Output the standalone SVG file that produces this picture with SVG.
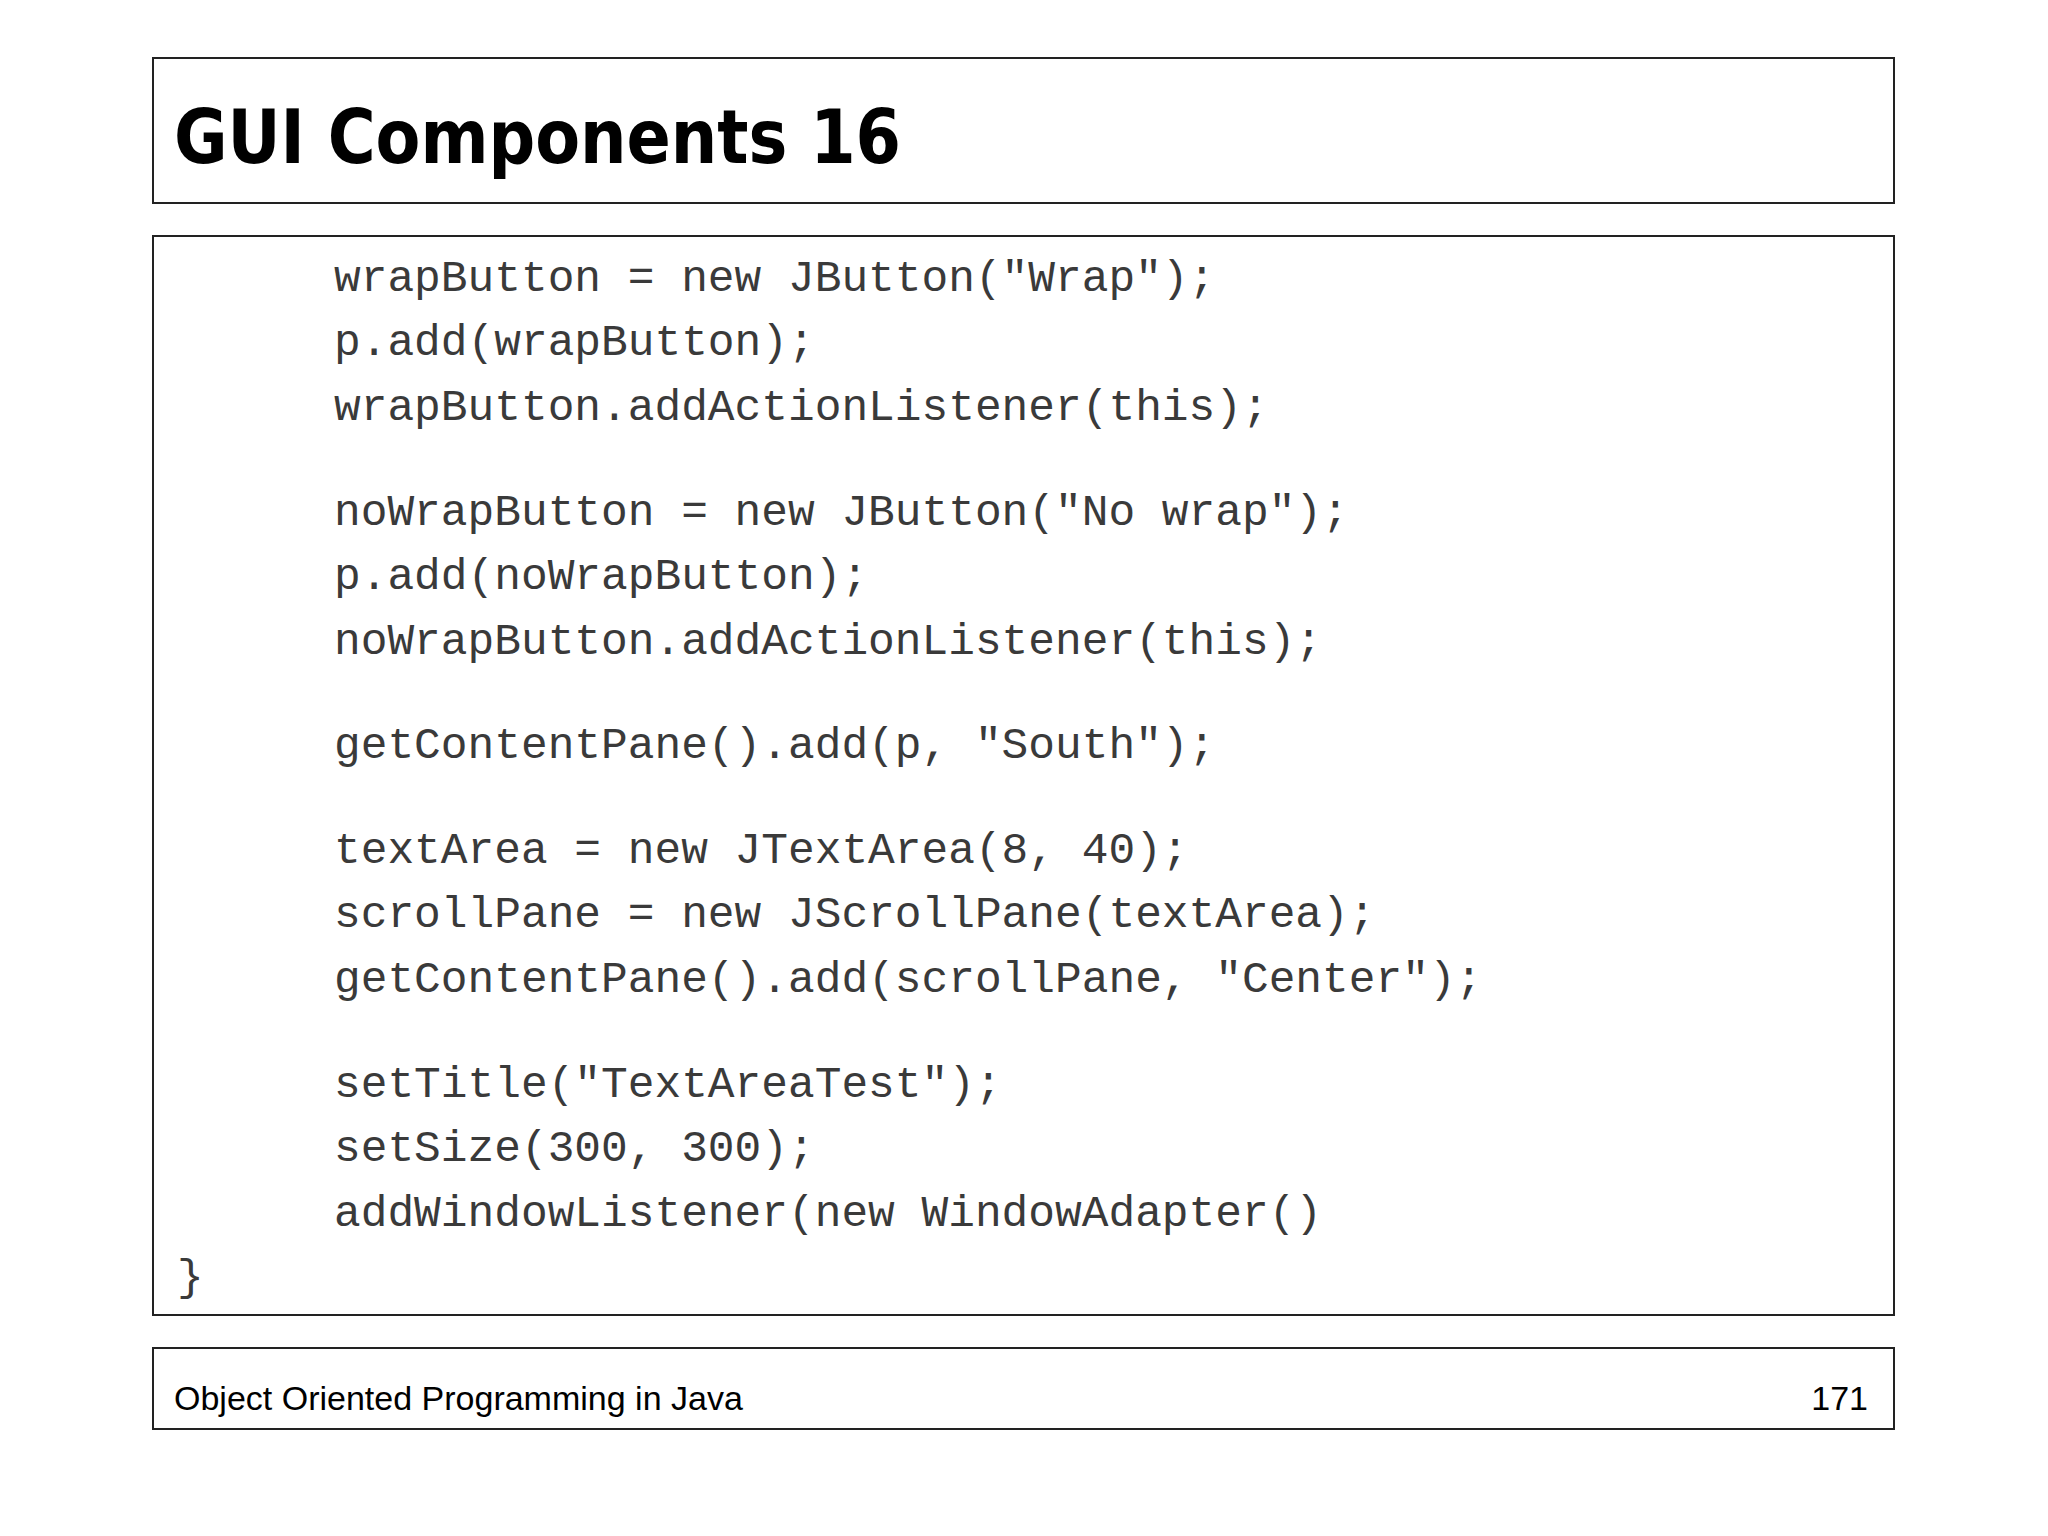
<svg xmlns="http://www.w3.org/2000/svg" width="2048" height="1536" viewBox="0 0 2048 1536">
<style>
.box{fill:#fff;stroke:#222;stroke-width:2}
.code{font-family:"Liberation Mono","Courier New",monospace;font-size:44.5px;fill:#3a3a3a;white-space:pre}
.foot{font-family:"Liberation Sans",Arial,sans-serif;font-size:34px;fill:#000}
</style>
<rect width="2048" height="1536" fill="#fff"/>
<g id="title"><rect class="box" x="153" y="58" width="1741" height="145"/>
<text x="174" y="163" font-family="'DejaVu Sans',sans-serif" font-weight="bold" font-size="74" textLength="727" lengthAdjust="spacingAndGlyphs">GUI Components 16</text></g>
<g id="code"><rect class="box" x="153" y="236" width="1741" height="1079"/>
<text class="code" x="334" y="291">wrapButton = new JButton("Wrap");</text>
<text class="code" x="334" y="355">p.add(wrapButton);</text>
<text class="code" x="334" y="420">wrapButton.addActionListener(this);</text>
<text class="code" x="334" y="525">noWrapButton = new JButton("No wrap");</text>
<text class="code" x="334" y="589">p.add(noWrapButton);</text>
<text class="code" x="334" y="654">noWrapButton.addActionListener(this);</text>
<text class="code" x="334" y="758">getContentPane().add(p, "South");</text>
<text class="code" x="334" y="863">textArea = new JTextArea(8, 40);</text>
<text class="code" x="334" y="927">scrollPane = new JScrollPane(textArea);</text>
<text class="code" x="334" y="992">getContentPane().add(scrollPane, "Center");</text>
<text class="code" x="334" y="1097">setTitle("TextAreaTest");</text>
<text class="code" x="334" y="1161">setSize(300, 300);</text>
<text class="code" x="334" y="1226">addWindowListener(new WindowAdapter()</text>
<text class="code" x="177" y="1290">}</text></g>
<g id="footer"><rect class="box" x="153" y="1348" width="1741" height="81"/>
<text class="foot" x="174" y="1410">Object Oriented Programming in Java</text>
<text class="foot" x="1868" y="1410" text-anchor="end">171</text></g>
</svg>
